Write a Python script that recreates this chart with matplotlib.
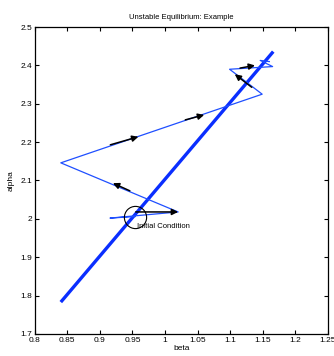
import matplotlib
matplotlib.use("Agg")
import matplotlib.pyplot as plt

plt.rcParams["font.family"] = ["Liberation Sans", "DejaVu Sans"]

# unstable line (thick)
line_beta = [0.840, 1.166]
line_alpha = [1.783, 2.436]

# trajectory (thin)
traj_beta = [0.954, 0.9155, 1.020, 0.840, 1.149, 1.099, 1.165, 1.146, 1.160]
traj_alpha = [2.006, 2.002, 2.018, 2.146, 2.325, 2.390, 2.397, 2.413, 2.410]

# direction arrows: tail -> head
arr_tail_beta = [0.955, 0.946, 0.916, 1.031, 1.133, 1.115]
arr_tail_alpha = [2.018, 2.073, 2.193, 2.258, 2.343, 2.393]
arr_head_beta = [1.020, 0.920, 0.959, 1.060, 1.107, 1.138]
arr_head_alpha = [2.018, 2.093, 2.214, 2.271, 2.377, 2.400]

init_beta, init_alpha = 0.954, 2.006
init_label = "Initial Condition"

fig = plt.figure(figsize=(3.34, 3.56), dpi=100)
ax = fig.add_axes([0.104, 0.062, 0.878, 0.862])

ax.plot(line_beta, line_alpha, color="#0a2eff", lw=2.4, solid_capstyle="butt")
ax.plot(traj_beta, traj_alpha, color="#1f4fff", lw=0.9)

for tb, ta, hb, ha in zip(arr_tail_beta, arr_tail_alpha, arr_head_beta, arr_head_alpha):
    ax.annotate("", xy=(hb, ha), xytext=(tb, ta),
                arrowprops=dict(arrowstyle="-|>", color="black", lw=1.1,
                                mutation_scale=9, shrinkA=0, shrinkB=0))

ax.plot([init_beta], [init_alpha], marker="o", ms=16, mfc="none", mec="black", mew=0.8)
ax.text(init_beta + 0.0025, 1.981, init_label, fontsize=5.5, va="center", ha="left")

ax.set_xlim(0.8, 1.25)
ax.set_ylim(1.7, 2.5)
ax.set_xticks([0.8, 0.85, 0.9, 0.95, 1, 1.05, 1.1, 1.15, 1.2, 1.25])
ax.set_xticklabels(["0.8", "0.85", "0.9", "0.95", "1", "1.05", "1.1", "1.15", "1.2", "1.25"])
ax.set_yticks([1.7, 1.8, 1.9, 2, 2.1, 2.2, 2.3, 2.4, 2.5])
ax.set_yticklabels(["1.7", "1.8", "1.9", "2", "2.1", "2.2", "2.3", "2.4", "2.5"])
ax.tick_params(direction="in", length=3, width=0.8, labelsize=6, top=True, right=True, pad=2)
for s in ax.spines.values():
    s.set_linewidth(0.9)

ax.set_xlabel("beta", fontsize=6, labelpad=1)
ax.set_ylabel("alpha", fontsize=6, labelpad=4)
ax.set_title("Unstable Equilibrium: Example", fontsize=5.5, pad=6)

fig.savefig("out.png", dpi=100)
